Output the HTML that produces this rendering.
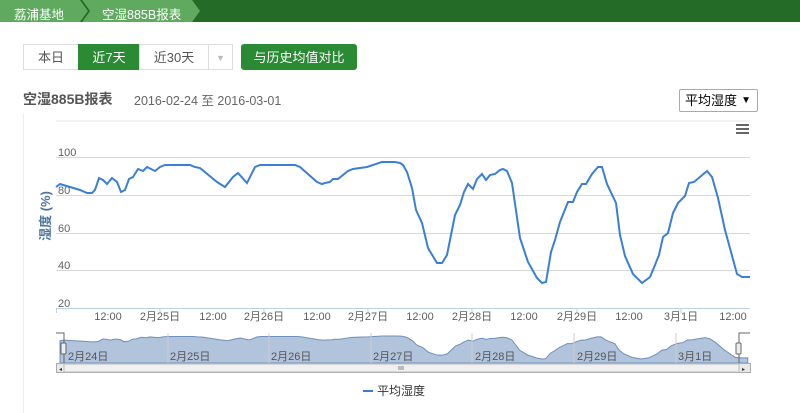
<!DOCTYPE html>
<html><head><meta charset="utf-8"><style>
body{margin:0;width:800px;height:413px;background:#fff;font-family:"Liberation Sans","Noto Sans CJK SC",sans-serif;position:relative;overflow:hidden}
.abs{position:absolute}
.btn{position:absolute;top:44px;height:26px;line-height:26px;text-align:center;font-size:13px;color:#555;border:1px solid #ddd;box-sizing:border-box;background:#fff}
</style></head><body>
<div class="abs" style="left:0;top:0;width:800px;height:22px;background:#236b26"></div>
<svg class="abs" style="left:0;top:0" width="220" height="22"><polygon points="0,0 80,0 88,11 80,22 0,22" fill="#5faa5f"/><polygon points="82,0 192,0 200,11 192,22 82,22 90,11" fill="#5faa5f"/><polyline points="81,0 89,11 81,22" fill="none" stroke="#236b26" stroke-width="1.5"/></svg>
<div class="abs" style="left:14px;top:4px;font-size:12.5px;color:#fff">荔浦基地</div>
<div class="abs" style="left:102px;top:4px;font-size:12.5px;color:#fff">空湿885B报表</div>
<div class="btn" style="left:23px;width:56px">本日</div>
<div class="btn" style="left:78px;width:62px;background:#2b8a34;color:#fff;border-color:#2b8a34">近7天</div>
<div class="btn" style="left:139px;width:70px">近30天</div>
<div class="btn" style="left:208px;width:25px;color:#bbb;font-size:9px">▼</div>
<div class="btn" style="left:241px;width:116px;background:#2b8a34;color:#fff;border-color:#2b8a34;border-radius:3px">与历史均值对比</div>
<div class="abs" style="left:23px;top:89px;font-size:14px;font-weight:bold;color:#555">空湿885B报表</div>
<div class="abs" style="left:134px;top:90px;font-size:12.5px;color:#666">2016-02-24 至 2016-03-01</div>
<div class="abs" style="left:679px;top:89px;width:79px;height:23px;border:1px solid #aaa;box-sizing:border-box;border-radius:2px;font-size:13px;line-height:21px;padding-left:5px;color:#000">平均湿度 <span style="position:absolute;right:6px;font-size:10px">▼</span></div>
<svg class="abs" style="left:0;top:0" width="800" height="413" font-family="Liberation Sans, Noto Sans CJK SC, sans-serif">
<line x1="56" y1="121" x2="750" y2="121" stroke="#e4e4e4"/>
<line x1="23.5" y1="113" x2="23.5" y2="413" stroke="#eee"/>
<g fill="#666"><rect x="736" y="124" width="13" height="2"/><rect x="736" y="128" width="13" height="2"/><rect x="736" y="132" width="13" height="2"/></g>
<g stroke="#d8d8d8"><line x1="56" y1="157.5" x2="750" y2="157.5"/><line x1="56" y1="195.5" x2="750" y2="195.5"/><line x1="56" y1="233.5" x2="750" y2="233.5"/><line x1="56" y1="270.5" x2="750" y2="270.5"/></g>
<line x1="56" y1="308.5" x2="750" y2="308.5" stroke="#c0d0e0"/>
<g font-size="11" fill="#606060"><text x="58" y="156">100</text><text x="58" y="194">80</text><text x="58" y="232">60</text><text x="58" y="269">40</text><text x="58" y="307">20</text></g>
<text transform="translate(50,216) rotate(-90)" text-anchor="middle" font-size="13" font-weight="bold" fill="#4d759e">湿度 (%)</text>
<g stroke="#c0d0e0"><line x1="56.5" y1="308" x2="56.5" y2="313"/><line x1="160" y1="308" x2="160" y2="313"/><line x1="264" y1="308" x2="264" y2="313"/><line x1="368" y1="308" x2="368" y2="313"/><line x1="472" y1="308" x2="472" y2="313"/><line x1="577" y1="308" x2="577" y2="313"/><line x1="681" y1="308" x2="681" y2="313"/></g>
<g font-size="11" fill="#606060" text-anchor="middle"><text x="108" y="320">12:00</text><text x="160" y="320">2月25日</text><text x="213" y="320">12:00</text><text x="264" y="320">2月26日</text><text x="317" y="320">12:00</text><text x="368" y="320">2月27日</text><text x="420" y="320">12:00</text><text x="472" y="320">2月28日</text><text x="524" y="320">12:00</text><text x="577" y="320">2月29日</text><text x="629" y="320">12:00</text><text x="681" y="320">3月1日</text><text x="733" y="320">12:00</text></g>
<defs><path id="d" d="M56,187 L60,184 L70,187 L80,190 L87,193 L92,193 L95,190 L99,178 L103,180 L107,184 L112,178 L117,182 L121,192 L125,190 L129,179 L133,177 L138,169 L143,171 L147,167 L155,171 L160,167 L165,165 L190,165 L195,167 L200,168 L217,182 L225,187 L233,177 L238,173 L247,183 L255,167 L260,165 L295,165 L300,167 L317,182 L322,184 L325,183 L330,182 L333,179 L338,179 L348,171 L353,169 L367,167 L382,162 L395,162 L400,163 L403,165 L407,172 L412,188 L416,210 L422,223 L428,248 L437,263 L442,263 L447,255 L455,215 L460,205 L464,192 L468,184 L473,189 L477,179 L482,174 L486,180 L490,175 L495,174 L500,170 L503,169 L507,171 L512,183 L520,238 L528,262 L537,278 L542,283 L546,282 L551,252 L555,240 L560,222 L568,202 L573,202 L577,192 L582,184 L586,184 L592,174 L598,167 L602,167 L607,184 L616,203 L620,235 L625,256 L633,274 L642,283 L650,277 L655,265 L659,255 L663,237 L668,233 L673,213 L678,203 L685,196 L689,183 L694,182 L707,171 L712,177 L718,198 L725,230 L737,274 L742,277 L750,277"/></defs>
<use href="#d" fill="none" stroke="#3a7fd5" stroke-width="2"/>
<g transform="translate(4.5,305.2) scale(0.991,0.19)"><path d="M56,187 L60,184 L70,187 L80,190 L87,193 L92,193 L95,190 L99,178 L103,180 L107,184 L112,178 L117,182 L121,192 L125,190 L129,179 L133,177 L138,169 L143,171 L147,167 L155,171 L160,167 L165,165 L190,165 L195,167 L200,168 L217,182 L225,187 L233,177 L238,173 L247,183 L255,167 L260,165 L295,165 L300,167 L317,182 L322,184 L325,183 L330,182 L333,179 L338,179 L348,171 L353,169 L367,167 L382,162 L395,162 L400,163 L403,165 L407,172 L412,188 L416,210 L422,223 L428,248 L437,263 L442,263 L447,255 L455,215 L460,205 L464,192 L468,184 L473,189 L477,179 L482,174 L486,180 L490,175 L495,174 L500,170 L503,169 L507,171 L512,183 L520,238 L528,262 L537,278 L542,283 L546,282 L551,252 L555,240 L560,222 L568,202 L573,202 L577,192 L582,184 L586,184 L592,174 L598,167 L602,167 L607,184 L616,203 L620,235 L625,256 L633,274 L642,283 L650,277 L655,265 L659,255 L663,237 L668,233 L673,213 L678,203 L685,196 L689,183 L694,182 L707,171 L712,177 L718,198 L725,230 L737,274 L742,277 L750,277 L750,304 L56,304 Z" fill="#b2c4dc" stroke="#6f8fba" stroke-width="1" vector-effect="non-scaling-stroke"/></g>
<g stroke="#ccc"><line x1="168" y1="333" x2="168" y2="363"/><line x1="269" y1="333" x2="269" y2="363"/><line x1="371" y1="333" x2="371" y2="363"/><line x1="472" y1="333" x2="472" y2="363"/><line x1="574" y1="333" x2="574" y2="363"/><line x1="676" y1="333" x2="676" y2="363"/></g>
<g font-size="11" fill="#555"><text x="68" y="360">2月24日</text><text x="170" y="360">2月25日</text><text x="271" y="360">2月26日</text><text x="373" y="360">2月27日</text><text x="475" y="360">2月28日</text><text x="577" y="360">2月29日</text><text x="678" y="360">3月1日</text></g>
<polyline points="56,333 64,333 64,363" fill="none" stroke="#666"/>
<polyline points="750,333 739,333 739,363" fill="none" stroke="#666"/>
<rect x="61" y="343" width="5" height="11" rx="1" fill="#eee" stroke="#666"/>
<rect x="736" y="343" width="5" height="11" rx="1" fill="#eee" stroke="#666"/>
<rect x="56.5" y="363.5" width="694" height="9" fill="#e8e8e8" stroke="#aaa"/>
<rect x="64" y="364" width="675" height="8" fill="#f0f0f0" stroke="#bbb"/>
<text x="59" y="371" font-size="6" fill="#333">◂</text><text x="742" y="371" font-size="6" fill="#333">▸</text>
<g stroke="#888"><line x1="399" y1="366" x2="399" y2="370"/><line x1="401" y1="366" x2="401" y2="370"/><line x1="403" y1="366" x2="403" y2="370"/></g>
<line x1="363" y1="391" x2="373" y2="391" stroke="#3a7fd5" stroke-width="2"/>
<text x="377" y="395" font-size="12" fill="#333">平均湿度</text>
</svg>
</body></html>
